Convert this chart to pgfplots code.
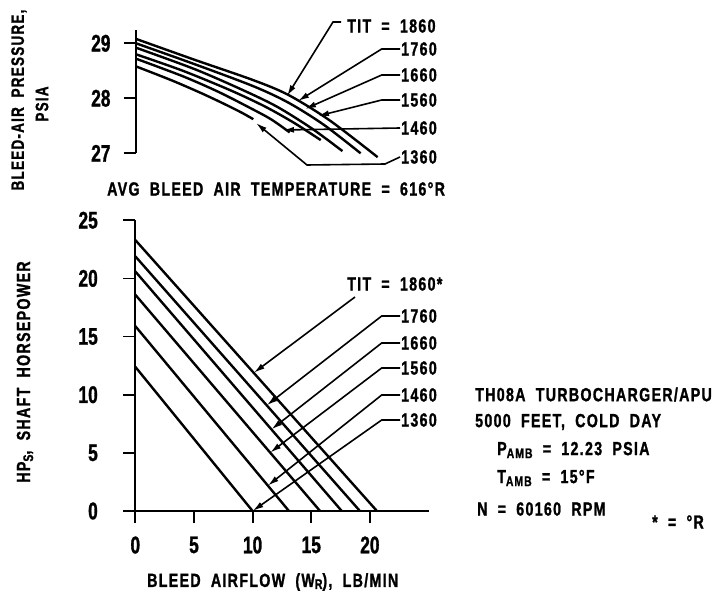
\documentclass[border=0pt]{standalone}
\usepackage{pgfplots}
\pgfplotsset{compat=1.18}
\usepackage{fontspec}
\setmainfont{Liberation Sans}[FakeStretch=0.75, LetterSpace=6.8, WordSpace=1.95, BoldFeatures={FakeBold=1.2}]
\newfontfamily\tickfamily{Liberation Sans}[FakeStretch=0.72, BoldFeatures={FakeBold=1.2}]
\usetikzlibrary{arrows.meta}
\newcommand{\tk}{\tickfamily\fontsize{24}{24}\selectfont\bfseries}
\newcommand{\lb}{\fontsize{19}{19}\selectfont\bfseries}
\newcommand{\lbs}{\fontsize{18}{18}\selectfont\bfseries}
\newcommand{\sm}{\fontsize{14}{14}\selectfont\bfseries}
\pgfplotsset{blk/.style={black, line width=2.4pt, no marks, solid}}
\begin{document}
\begin{tikzpicture}
\useasboundingbox (0pt,0pt) rectangle (717pt,-593pt);
\tikzset{lead/.style={line width=1.6pt,-{Latex[length=11pt,width=6pt]}}}
% ---------------- top axis ----------------
\begin{axis}[
  at={(136pt,-153.3pt)}, anchor=south west,
  scale only axis, width=293.25pt, height=123.75pt,
  xmin=0, xmax=25, ymin=27, ymax=29.25,
  axis x line=none, axis y line=left,
  axis line style={line width=2pt,-},
  xtick=\empty, ytick={27,28,29},
  tick align=outside, major tick length=12pt,
  tick style={line width=1.8pt,black},
  yticklabel style={font=\tk, xshift=-10pt},
  /pgf/number format/assume math mode=true,
  clip=false,
]
\addplot[blk, smooth] coordinates {(0,29.08)(5,28.70)(10,28.33)(13,28.06)(16.5,27.60)(20.6,26.93)};
\addplot[blk, smooth] coordinates {(0,29.00)(5,28.62)(10,28.22)(13,27.92)(16,27.52)(19.15,27.00)};
\addplot[blk, smooth] coordinates {(0,28.92)(5,28.53)(9,28.16)(12,27.85)(15,27.45)(17.6,27.04)};
\addplot[blk, smooth] coordinates {(0,28.80)(4,28.50)(8,28.15)(11,27.85)(13.5,27.55)(15.75,27.24)};
\addplot[blk, smooth] coordinates {(0,28.72)(4,28.40)(7,28.12)(9.5,27.85)(11.5,27.62)(13.1,27.38)};
\addplot[blk, smooth] coordinates {(0,28.58)(3,28.33)(5.5,28.10)(7.5,27.90)(9,27.74)(10,27.62)};
\end{axis}
% ---------------- bottom axis ----------------
\begin{axis}[
  at={(135.3pt,-511pt)}, anchor=south west,
  scale only axis, width=293.25pt, height=290.75pt,
  xmin=0, xmax=25, ymin=0, ymax=25,
  axis x line=bottom, axis y line=left,
  axis line style={line width=2pt,-},
  xtick={0,5,10,15,20}, ytick={0,5,10,15,20,25},
  tick align=outside, major tick length=12pt,
  tick style={line width=1.8pt,black},
  yticklabel style={font=\tk, xshift=-22pt},
  xticklabel style={font=\tk, yshift=-10pt},
  /pgf/number format/assume math mode=true,
  clip=false,
]
\addplot[blk] coordinates {(0,23.3)(20.6,0)};
\addplot[blk] coordinates {(0,21.9)(19.15,0)};
\addplot[blk] coordinates {(0,20.6)(17.6,0)};
\addplot[blk] coordinates {(0,18.6)(15.75,0)};
\addplot[blk] coordinates {(0,15.9)(13.1,0)};
\addplot[blk] coordinates {(0,12.4)(10,0)};
\end{axis}
% ---------------- bottom annotations ----------------
\node[anchor=west,inner sep=0pt] at (347pt,-284pt) {\lb TIT = 1860*};
\draw[lead] (355pt,-297pt) -- (253.8pt,-372.8pt);
\draw[lead] (400pt,-316pt) -- (381.7pt,-316pt) -- (266.7pt,-405.3pt);
\draw[lead] (400pt,-343pt) -- (381.7pt,-343pt) -- (271.4pt,-429.4pt);
\draw[lead] (400pt,-368pt) -- (381.7pt,-368pt) -- (270.2pt,-452.6pt);
\draw[lead] (400pt,-395pt) -- (381.7pt,-395pt) -- (267.9pt,-485.6pt);
\draw[lead] (400pt,-420pt) -- (381.7pt,-420pt) -- (252.6pt,-511pt);
\node[anchor=west,inner sep=0pt] at (401pt,-316pt) {\lb 1760};
\node[anchor=west,inner sep=0pt] at (401pt,-343pt) {\lb 1660};
\node[anchor=west,inner sep=0pt] at (401pt,-368pt) {\lb 1560};
\node[anchor=west,inner sep=0pt] at (401pt,-395pt) {\lb 1460};
\node[anchor=west,inner sep=0pt] at (401pt,-420pt) {\lb 1360};
% ---------------- top annotations ----------------
\node[anchor=west,inner sep=0pt] at (347pt,-26pt) {\lb TIT = 1860};
\draw[lead] (341pt,-22pt) -- (333pt,-22pt) -- (287pt,-96pt);
\draw[lead] (400pt,-49pt) -- (381.7pt,-49pt) -- (298pt,-101pt);
\draw[lead] (400pt,-75pt) -- (381.7pt,-75pt) -- (305pt,-109pt);
\draw[lead] (400pt,-100pt) -- (381.7pt,-100pt) -- (318pt,-116pt);
\draw[lead] (400pt,-128pt) -- (283pt,-130pt);
\draw[lead] (400pt,-157pt) -- (385pt,-164pt) -- (307pt,-165pt) -- (256pt,-123pt);
\node[anchor=west,inner sep=0pt] at (401pt,-49pt) {\lb 1760};
\node[anchor=west,inner sep=0pt] at (401pt,-75pt) {\lb 1660};
\node[anchor=west,inner sep=0pt] at (401pt,-100pt) {\lb 1560};
\node[anchor=west,inner sep=0pt] at (401pt,-128pt) {\lb 1460};
\node[anchor=west,inner sep=0pt] at (401pt,-157pt) {\lb 1360};
% ---------------- labels ----------------
\node[anchor=west,inner sep=0pt] at (107pt,-189pt) {\lb AVG BLEED AIR TEMPERATURE = 616°R};
\node[rotate=90,inner sep=0pt] at (19pt,-100pt) {\lbs BLEED-AIR PRESSURE,};
\node[rotate=90,inner sep=0pt] at (42pt,-104pt) {\lbs PSIA};
\node[rotate=90,inner sep=0pt] at (25pt,-372pt) {\lb HP\raisebox{-3pt}{\sm S}, SHAFT HORSEPOWER};
\node[anchor=west,inner sep=0pt] at (147pt,-582pt) {\lb BLEED AIRFLOW (W\raisebox{-2pt}{\sm R}), LB/MIN};
% ---------------- right block ----------------
\node[anchor=west,inner sep=0pt] at (475pt,-394.5pt) {\lb TH08A TURBOCHARGER/APU};
\node[anchor=west,inner sep=0pt] at (475pt,-422pt) {\lb 5000 FEET, COLD DAY};
\node[anchor=west,inner sep=0pt] at (497pt,-450pt) {\lb P\raisebox{-3pt}{\sm AMB} = 12.23 PSIA};
\node[anchor=west,inner sep=0pt] at (497pt,-478pt) {\lb T\raisebox{-3pt}{\sm AMB} = 15°F};
\node[anchor=west,inner sep=0pt] at (477pt,-509pt) {\lb N = 60160 RPM};
\node[anchor=west,inner sep=0pt] at (652pt,-522pt) {\lb * = °R};
\end{tikzpicture}
\end{document}
